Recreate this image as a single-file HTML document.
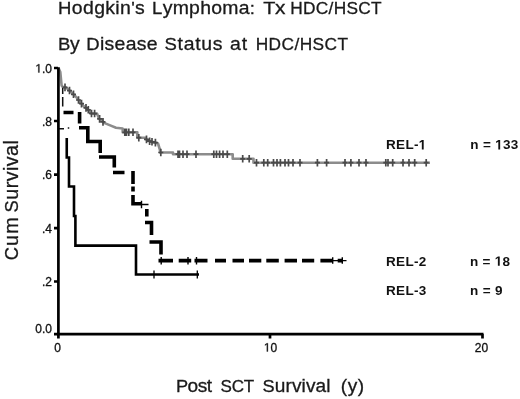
<!DOCTYPE html>
<html><head><meta charset="utf-8"><style>
html,body{margin:0;padding:0;background:#fff;}
svg{display:block;will-change:transform;}
text{font-family:"Liberation Sans",sans-serif;}
</style></head><body>
<svg width="520" height="399" viewBox="0 0 520 399">
<rect width="520" height="399" fill="#fff"/>
<text transform="translate(58.1,13.6) scale(1.07,1)" font-size="17.3" font-weight="normal" fill="#1a1a1a" textLength="81.03" lengthAdjust="spacing" stroke="#1a1a1a" stroke-width="0.3">H<tspan font-size="18.17">odgkin</tspan>&#39;<tspan font-size="18.17">s</tspan></text>
<text transform="translate(152.1,13.6) scale(1.07,1)" font-size="17.3" font-weight="normal" fill="#1a1a1a" textLength="96.17" lengthAdjust="spacing" stroke="#1a1a1a" stroke-width="0.3">L<tspan font-size="18.17">ymphoma</tspan>:</text>
<text transform="translate(263.2,13.6) scale(1.15,1)" font-size="17.3" font-weight="normal" fill="#1a1a1a" textLength="19.30" lengthAdjust="spacing" stroke="#1a1a1a" stroke-width="0.3">T<tspan font-size="18.17">x</tspan></text>
<text transform="translate(290.3,13.6) scale(1.0,1)" font-size="17.3" font-weight="normal" fill="#1a1a1a" textLength="91.20" lengthAdjust="spacing" stroke="#1a1a1a" stroke-width="0.3">HDC/HSCT</text>
<text transform="translate(58.1,49.6) scale(1.07,1)" font-size="17.3" font-weight="normal" fill="#1a1a1a" textLength="20.19" lengthAdjust="spacing" stroke="#1a1a1a" stroke-width="0.3">B<tspan font-size="18.17">y</tspan></text>
<text transform="translate(86.3,49.6) scale(1.07,1)" font-size="17.3" font-weight="normal" fill="#1a1a1a" textLength="66.64" lengthAdjust="spacing" stroke="#1a1a1a" stroke-width="0.3">D<tspan font-size="18.17">isease</tspan></text>
<text transform="translate(164.5,49.6) scale(1.07,1)" font-size="17.3" font-weight="normal" fill="#1a1a1a" textLength="54.21" lengthAdjust="spacing" stroke="#1a1a1a" stroke-width="0.3">S<tspan font-size="18.17">tatus</tspan></text>
<text transform="translate(230.1,49.6) scale(1.07,1)" font-size="17.3" font-weight="normal" fill="#1a1a1a" textLength="15.98" lengthAdjust="spacing" stroke="#1a1a1a" stroke-width="0.3"><tspan font-size="18.17">at</tspan></text>
<text transform="translate(255.7,49.6) scale(1.0,1)" font-size="17.3" font-weight="normal" fill="#1a1a1a" textLength="92.30" lengthAdjust="spacing" stroke="#1a1a1a" stroke-width="0.3">HDC/HSCT</text>
<path d="M58.5,68 L60.3,72 L61.6,85.5 L62.5,86.8 L66,87.6 L71,91.8 L75.5,96.3 L78.5,100 L83,105.4 L88.3,109.8 L90.5,113.4 L97,113.6 L99,118.5 L102,120.5 L103.5,122.6 L110.8,125.6 L116,127.8 L122.7,128.5 L122.7,132.3 L137.3,132.3 L137.3,137.7 L145.8,137.7 L147,140.6 L155,142.5 L158,143.5 L160,150 L160,152.5 L173,152.5 L173,154.2 L232.7,154.2 L232.7,158.8 L253.5,158.8 L253.5,162.7 L430,162.7" fill="none" stroke="#8c8c8c" stroke-width="2.6" stroke-linejoin="round"/>
<path d="M65,83.57v7.6M62.5,87.37h5M69.5,86.74v7.6M67,90.54h5M73.5,90.5v7.6M71,94.3h5M78.5,96.2v7.6M76,100h5M81.5,99.8v7.6M79,103.6h5M86,104.09v7.6M83.5,107.89h5M88.3,106v7.6M85.8,109.8h5M91.5,109.63v7.6M89,113.43h5M94.6,109.73v7.6M92.1,113.53h5M99.6,115.1v7.6M97.1,118.9h5M103,118.1v7.6M100.5,121.9h5M124.8,128.5v7.6M122.3,132.3h5M126.5,128.5v7.6M124,132.3h5M128.8,128.5v7.6M126.3,132.3h5M133,128.5v7.6M130.5,132.3h5M138.8,133.9v7.6M136.3,137.7h5M146.5,135.59v7.6M144,139.39h5M149.6,137.42v7.6M147.1,141.22h5M152,137.99v7.6M149.5,141.79h5M155.4,138.83v7.6M152.9,142.63h5M160.8,148.7v7.6M158.3,152.5h5M178,150.4v7.6M175.5,154.2h5M179.5,150.4v7.6M177,154.2h5M183,150.4v7.6M180.5,154.2h5M187,150.4v7.6M184.5,154.2h5M196,150.4v7.6M193.5,154.2h5M213.8,150.4v7.6M211.3,154.2h5M216.5,150.4v7.6M214,154.2h5M219.6,150.4v7.6M217.1,154.2h5M223,150.4v7.6M220.5,154.2h5M227.3,150.4v7.6M224.8,154.2h5M242.7,155v7.6M240.2,158.8h5M249.2,155v7.6M246.7,158.8h5M256.5,158.9v7.6M254,162.7h5M263.8,158.9v7.6M261.3,162.7h5M267.7,158.9v7.6M265.2,162.7h5M273.5,158.9v7.6M271,162.7h5M277,158.9v7.6M274.5,162.7h5M280.4,158.9v7.6M277.9,162.7h5M285,158.9v7.6M282.5,162.7h5M288.5,158.9v7.6M286,162.7h5M293,158.9v7.6M290.5,162.7h5M300,158.9v7.6M297.5,162.7h5M317.4,158.9v7.6M314.9,162.7h5M326.6,158.9v7.6M324.1,162.7h5M345,158.9v7.6M342.5,162.7h5M350.9,158.9v7.6M348.4,162.7h5M359,158.9v7.6M356.5,162.7h5M366,158.9v7.6M363.5,162.7h5M385.8,158.9v7.6M383.3,162.7h5M388,158.9v7.6M385.5,162.7h5M392.7,158.9v7.6M390.2,162.7h5M403,158.9v7.6M400.5,162.7h5M409,158.9v7.6M406.5,162.7h5M414.7,158.9v7.6M412.2,162.7h5M426.2,158.9v7.6M423.7,162.7h5" fill="none" stroke="#4a4a4a" stroke-width="1.7"/>
<path d="M66.75,138V157.5H69V186.5H74V216H75.4V245.6H136V274.5H199" fill="none" stroke="#000" stroke-width="2.6"/>
<path d="M154,270.5v8M197.3,270.5v8" stroke="#000" stroke-width="1.3"/>
<path d="M59,128.8H64M62.7,88V94M62.7,97V106.5M68.5,127.2v1.6" stroke="#111" stroke-width="1.5"/>
<path d="M63.5,112.5H73.5M79.6,112V123.5M79,127.8H87.8V141.5H100.2V153M99,157H114.3V167.5M113,172.5H124.5M133,171V184M133,186.5V191.5M133,195V203.8H141.5M146.8,209V216.5M145,222.5H151.5V235M149.5,242H161V254.5M158.5,260.6H173M178.7,260.6H191.2M194.5,260.6H207.5M215,260.6H226M232.5,260.6H244M249,260.6H261.3M266.3,260.6H278.8M284.6,260.6H297M302,260.6H314.2M320.4,260.6H332.7M337.7,260.6H343" fill="none" stroke="#000" stroke-width="3.6"/>
<path d="M141.5,204.5H148.5M332.7,260.6H346.5" fill="none" stroke="#000" stroke-width="1.4"/>
<path d="M141.5,200.8v7.4M161.2,257v7.4M188,257v7.4M196.5,257v7.4M332.7,257.3v6.5M342.3,257.3v6.5" fill="none" stroke="#000" stroke-width="1.4"/>
<path d="M58.4,67.3V338.5M54,334.2H483.5M54,68H58M54,121H58M54,174.6H58M54,228.1H58M54,281.5H58M270,334V338.5M482.5,334V338.5" stroke="#000" stroke-width="2.7" fill="none"/>
<g fill="#111" font-size="12" text-anchor="end" stroke="#111" stroke-width="0.3">
<text x="52" y="72.5"> .0</text>
<text x="52" y="125.6">.8</text>
<text x="52" y="179.1">.6</text>
<text x="52" y="232.7">.4</text>
<text x="52" y="286">.2</text>
<text x="52" y="333">0.0</text>
</g>
<g fill="#111" font-size="12" text-anchor="middle" stroke="#111" stroke-width="0.3">
<text x="57.6" y="351.5">0</text>
<text x="270.5" y="351.5"> 0</text>
<text x="481.5" y="351.5">20</text>
</g>
<text transform="translate(175.9,392.2) scale(1.07,1)" font-size="17" font-weight="normal" fill="#1a1a1a" textLength="33.83" lengthAdjust="spacing" stroke="#1a1a1a" stroke-width="0.3">P<tspan font-size="17.85">ost</tspan></text>
<text transform="translate(220.5,392.2) scale(1.0,1)" font-size="17" font-weight="normal" fill="#1a1a1a" textLength="33.70" lengthAdjust="spacing" stroke="#1a1a1a" stroke-width="0.3">SCT</text>
<text transform="translate(262.5,392.2) scale(1.07,1)" font-size="17" font-weight="normal" fill="#1a1a1a" textLength="63.64" lengthAdjust="spacing" stroke="#1a1a1a" stroke-width="0.3">S<tspan font-size="17.85">urvival</tspan></text>
<text transform="translate(340.8,392.2) scale(1.07,1)" font-size="17" font-weight="normal" fill="#1a1a1a" textLength="21.87" lengthAdjust="spacing" stroke="#1a1a1a" stroke-width="0.3"><tspan font-size="17.85">(y)</tspan></text>
<g transform="translate(18.2,400) rotate(-90)"><text transform="translate(139.7,0) scale(1.0,1)" font-size="18.3" font-weight="normal" fill="#1a1a1a" textLength="43.10" lengthAdjust="spacing" stroke="#1a1a1a" stroke-width="0.3">C<tspan font-size="19.76">um</tspan></text><text transform="translate(187.6,0) scale(1.0,1)" font-size="18.3" font-weight="normal" fill="#1a1a1a" textLength="72.30" lengthAdjust="spacing" stroke="#1a1a1a" stroke-width="0.3">S<tspan font-size="19.76">urvival</tspan></text></g>
<text transform="translate(386.1,149.4) scale(1,1)" font-size="13.5" font-weight="bold" fill="#111" textLength="40.10" lengthAdjust="spacing">REL- </text>
<text transform="translate(386.1,265.7) scale(1,1)" font-size="13.5" font-weight="bold" fill="#111" textLength="40.10" lengthAdjust="spacing">REL-2</text>
<text transform="translate(386.1,294.8) scale(1,1)" font-size="13.5" font-weight="bold" fill="#111" textLength="40.10" lengthAdjust="spacing">REL-3</text>
<text transform="translate(470.3,149.4) scale(1,1)" font-size="13.5" font-weight="bold" fill="#111" textLength="48.00" lengthAdjust="spacing">n =  33</text>
<text transform="translate(470.1,265.7) scale(1,1)" font-size="13.5" font-weight="bold" fill="#111" textLength="39.90" lengthAdjust="spacing">n =  8</text>
<text transform="translate(470.1,294.8) scale(1,1)" font-size="13.5" font-weight="bold" fill="#111" textLength="32.40" lengthAdjust="spacing">n = 9</text>
<path transform="matrix(1.0000,0.0000,0.0000,1.0000,0.000,0.000) translate(35.312,72.500) scale(0.005859,-0.005859)" d="M515,0V1237L197,1010V1180L530,1409H696V0Z" fill="#111" stroke="#111" stroke-width="51.2"/>
<path transform="matrix(1.0000,0.0000,0.0000,1.0000,0.000,0.000) translate(263.820,351.500) scale(0.005859,-0.005859)" d="M515,0V1237L197,1010V1180L530,1409H696V0Z" fill="#111" stroke="#111" stroke-width="51.2"/>
<path transform="matrix(1.0000,0.0000,0.0000,1.0000,386.100,149.400) translate(32.584,0.000) scale(0.006592,-0.006592)" d="M478,0V1170L140,959V1180L493,1409H759V0Z" fill="#111"/>
<path transform="matrix(1.0000,0.0000,0.0000,1.0000,470.300,149.400) translate(24.859,0.000) scale(0.006592,-0.006592)" d="M478,0V1170L140,959V1180L493,1409H759V0Z" fill="#111"/>
<path transform="matrix(1.0000,0.0000,0.0000,1.0000,470.100,265.700) translate(24.629,0.000) scale(0.006592,-0.006592)" d="M478,0V1170L140,959V1180L493,1409H759V0Z" fill="#111"/>
</svg>
</body></html>
